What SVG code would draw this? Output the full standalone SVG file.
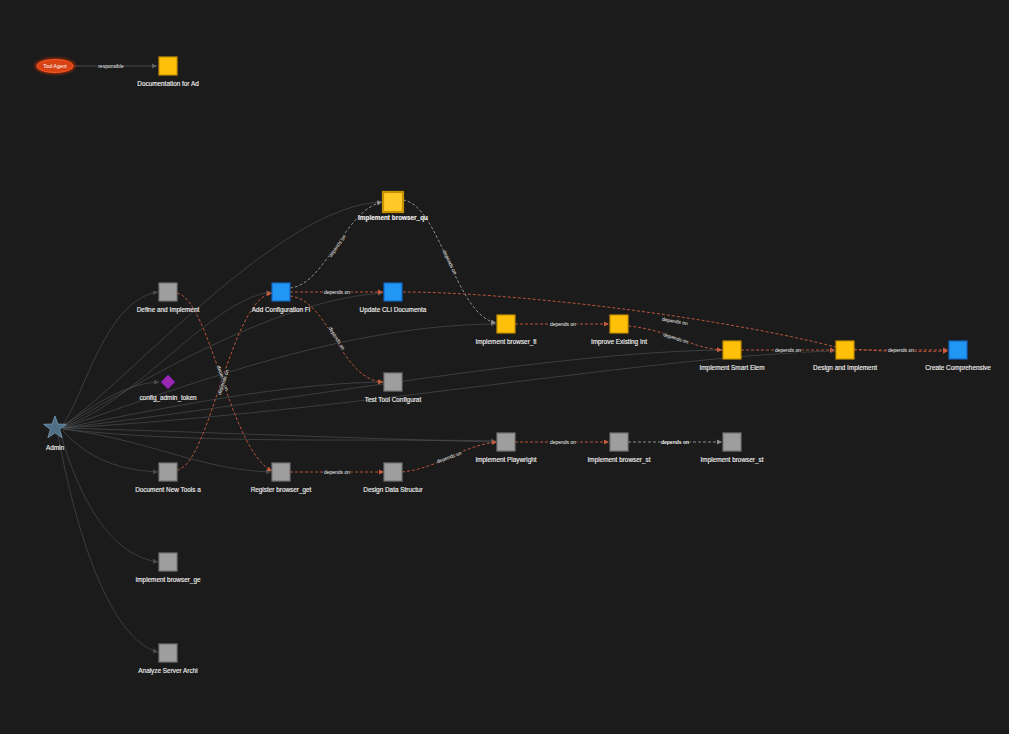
<svg xmlns="http://www.w3.org/2000/svg" width="1009" height="734" viewBox="0 0 1009 734">
<defs>
<style>
.lbl{font-family:"Liberation Sans",Arial,sans-serif;font-size:6.4px;fill:#ececec;text-anchor:middle;stroke:#ececec;stroke-width:0.15px}
.el{font-family:"Liberation Sans",Arial,sans-serif;font-size:5px;fill:#f4f4f4;text-anchor:middle;dominant-baseline:central;stroke:#1b1b1b;stroke-width:1.6px;paint-order:stroke}
.adm{fill:none;stroke:#55595d;stroke-width:0.8;opacity:0.7;marker-end:url(#ag)}
.dep{fill:none;stroke:#b9553a;stroke-width:1;stroke-dasharray:3 2;marker-end:url(#ar)}
.gdep{fill:none;stroke:#8e8e8e;stroke-width:1;stroke-dasharray:3 2;marker-end:url(#ag2)}
.sq-g{fill:#9e9e9e;stroke:#757575;stroke-width:1.2}
.sq-y{fill:#ffc107;stroke:#c79100;stroke-width:1.2}
.sq-b{fill:#2196f3;stroke:#1565c0;stroke-width:1.2}
</style>
<marker id="ag" markerWidth="6" markerHeight="6" refX="5" refY="3" orient="auto" markerUnits="userSpaceOnUse"><path d="M0,0.5 L5,3 L0,5.5 Z" fill="#5a5f63"/></marker>
<marker id="ag2" markerWidth="6" markerHeight="6" refX="5" refY="3" orient="auto" markerUnits="userSpaceOnUse"><path d="M0,0.5 L5,3 L0,5.5 Z" fill="#8e8e8e"/></marker>
<marker id="ar" markerWidth="6" markerHeight="6" refX="5" refY="3" orient="auto" markerUnits="userSpaceOnUse"><path d="M0,0.5 L5,3 L0,5.5 Z" fill="#c65a3c"/></marker>
<filter id="glow" x="-50%" y="-100%" width="200%" height="300%"><feGaussianBlur stdDeviation="1.5"/></filter>
</defs>
<rect width="1009" height="734" fill="#1b1b1b"/>

<g id="connectors">
<path class="adm" d="M62,426 C85,395 105,300 158,292"/>
<path class="adm" d="M62,427 C100,400 130,383 159,382"/>
<path class="adm" d="M63,427 C140,400 210,300 271,292"/>
<path class="adm" d="M63,426 C130,380 280,205 382,202"/>
<path class="adm" d="M63,427 C160,370 280,300 383,293"/>
<path class="adm" d="M63,428 C200,400 300,383 383,382"/>
<path class="adm" d="M63,428 C200,380 350,325 496,324"/>
<path class="adm" d="M63,428 C300,400 550,352 722,350"/>
<path class="adm" d="M63,428 C350,412 650,356 835,351"/>
<path class="adm" d="M63,428 C200,432 400,440 496,442"/>
<path class="adm" d="M63,429 C200,445 380,438 496,441"/>
<path class="adm" d="M63,429 C150,440 200,470 271,472"/>
<path class="adm" d="M62,430 C90,460 120,470 158,472"/>
<path class="adm" d="M60,432 C80,500 110,555 158,562"/>
<path class="adm" d="M58,434 C75,530 110,640 158,652"/>

<path d="M74,66 L157,66" fill="none" stroke="#555" stroke-width="0.8" marker-end="url(#ag)"/>
<text class="el" x="111" y="66">responsible</text>

<path class="gdep" d="M290,288 C325,285 345,210 382,202"/>
<text class="el" transform="translate(337,246) rotate(-55)" x="0" y="0">depends on</text>
<path class="gdep" d="M403,200 C440,205 455,315 496,323"/>
<text class="el" transform="translate(450,262) rotate(64)" x="0" y="0">depends on</text>
<path class="gdep" d="M628,442 L722,442"/>
<text class="el" x="675" y="442" style="font-weight:bold">depends on</text>

<path class="dep" d="M290,292 L383,292"/>
<text class="el" x="337" y="292">depends on</text>
<path class="dep" d="M290,296 C330,300 340,380 383,382"/>
<text class="el" transform="translate(337,338) rotate(58)" x="0" y="0">depends on</text>
<path class="dep" d="M403,292 C500,292 700,313 836,347 Q880,353 948,351"/>
<text class="el" transform="translate(675,321) rotate(10)" x="0" y="0">depends on</text>
<path class="dep" d="M515,324 L609,324"/>
<text class="el" x="563" y="324">depends on</text>
<path class="dep" d="M628,326 C670,330 690,348 722,350"/>
<text class="el" transform="translate(676,338) rotate(17)" x="0" y="0">depends on</text>
<path class="dep" d="M741,350 L835,350"/>
<text class="el" x="788" y="350">depends on</text>
<path class="dep" d="M854,350 L948,350"/>
<text class="el" x="901" y="350">depends on</text>
<path class="dep" d="M177,293 C210,300 230,450 272,471"/>
<path class="dep" d="M177,470 C210,465 230,300 272,293"/>
<text class="el" transform="translate(223,378) rotate(71)" x="0" y="0">depends on</text>
<text class="el" transform="translate(223,382) rotate(-71)" x="0" y="0">depends on</text>
<path class="dep" d="M290,472 L384,472"/>
<text class="el" x="337" y="472">depends on</text>
<path class="dep" d="M402,472 C440,468 460,446 497,442"/>
<text class="el" transform="translate(449,457) rotate(-20)" x="0" y="0">depends on</text>
<path class="dep" d="M515,442 L609,442"/>
<text class="el" x="563" y="442">depends on</text>
</g>

<g id="tool-agent">
<ellipse cx="55" cy="66" rx="20" ry="8" fill="#ff3d00" opacity="0.6" filter="url(#glow)"/>
<ellipse cx="55" cy="66" rx="18" ry="6.5" fill="#d84315" stroke="#ff5722" stroke-width="1"/>
<text x="55" y="68" style="font-family:'Liberation Sans',Arial,sans-serif;font-size:5px;fill:#fff;text-anchor:middle">Tool Agent</text>
</g>
<g id="doc-ad"><rect class="sq-y" x="159" y="57" width="18" height="18"/><text class="lbl" x="168" y="86">Documentation for Ad</text></g>
<g id="impl-browser-qu"><rect x="383" y="192" width="20" height="20" fill="#ffca28" stroke="#c79100" stroke-width="2.2"/><text class="lbl" x="393" y="220" style="font-weight:bold">Implement browser_qu</text></g>
<g id="define-impl"><rect class="sq-g" x="159" y="283" width="18" height="18"/><text class="lbl" x="168" y="312">Define and Implement</text></g>
<g id="add-config"><rect class="sq-b" x="272" y="283" width="18" height="18"/><text class="lbl" x="281" y="312">Add Configuration Fi</text></g>
<g id="update-cli"><rect class="sq-b" x="384" y="283" width="18" height="18"/><text class="lbl" x="393" y="312">Update CLI Documenta</text></g>
<g id="config-admin-token"><path d="M168,375 L175,382 L168,389 L161,382 Z" fill="#9c27b0" stroke="#6a1b9a" stroke-width="1"/><text class="lbl" x="168" y="400">config_admin_token</text></g>
<g id="test-tool"><rect class="sq-g" x="384" y="373" width="18" height="18"/><text class="lbl" x="393" y="402">Test Tool Configurat</text></g>
<g id="impl-browser-fi"><rect class="sq-y" x="497" y="315" width="18" height="18"/><text class="lbl" x="506" y="344">Implement browser_fi</text></g>
<g id="improve-existing"><rect class="sq-y" x="610" y="315" width="18" height="18"/><text class="lbl" x="619" y="344">Improve Existing Int</text></g>
<g id="impl-smart"><rect class="sq-y" x="723" y="341" width="18" height="18"/><text class="lbl" x="732" y="370">Implement Smart Elem</text></g>
<g id="design-impl"><rect class="sq-y" x="836" y="341" width="18" height="18"/><text class="lbl" x="845" y="370">Design and Implement</text></g>
<g id="create-comp"><rect class="sq-b" x="949" y="341" width="18" height="18"/><text class="lbl" x="958" y="370">Create Comprehensive</text></g>
<g id="admin"><path d="M55,416 L57.9,424.1 L66.4,424.3 L59.6,429.5 L62.1,437.7 L55,432.8 L47.9,437.7 L50.4,429.5 L43.6,424.3 L52.1,424.1 Z" fill="#4f6f87" stroke="#6d8ea6" stroke-width="1"/><text class="lbl" x="55" y="450">Admin</text></g>
<g id="impl-playwright"><rect class="sq-g" x="497" y="433" width="18" height="18"/><text class="lbl" x="506" y="462">Implement Playwright</text></g>
<g id="impl-browser-st1"><rect class="sq-g" x="610" y="433" width="18" height="18"/><text class="lbl" x="619" y="462">Implement browser_st</text></g>
<g id="impl-browser-st2"><rect class="sq-g" x="723" y="433" width="18" height="18"/><text class="lbl" x="732" y="462">Implement browser_st</text></g>
<g id="doc-new-tools"><rect class="sq-g" x="159" y="463" width="18" height="18"/><text class="lbl" x="168" y="492">Document New Tools a</text></g>
<g id="register-browser-get"><rect class="sq-g" x="272" y="463" width="18" height="18"/><text class="lbl" x="281" y="492">Register browser_get</text></g>
<g id="design-data"><rect class="sq-g" x="384" y="463" width="18" height="18"/><text class="lbl" x="393" y="492">Design Data Structur</text></g>
<g id="impl-browser-ge"><rect class="sq-g" x="159" y="553" width="18" height="18"/><text class="lbl" x="168" y="582">Implement browser_ge</text></g>
<g id="analyze-server"><rect class="sq-g" x="159" y="644" width="18" height="18"/><text class="lbl" x="168" y="673">Analyze Server Archi</text></g>
</svg>
